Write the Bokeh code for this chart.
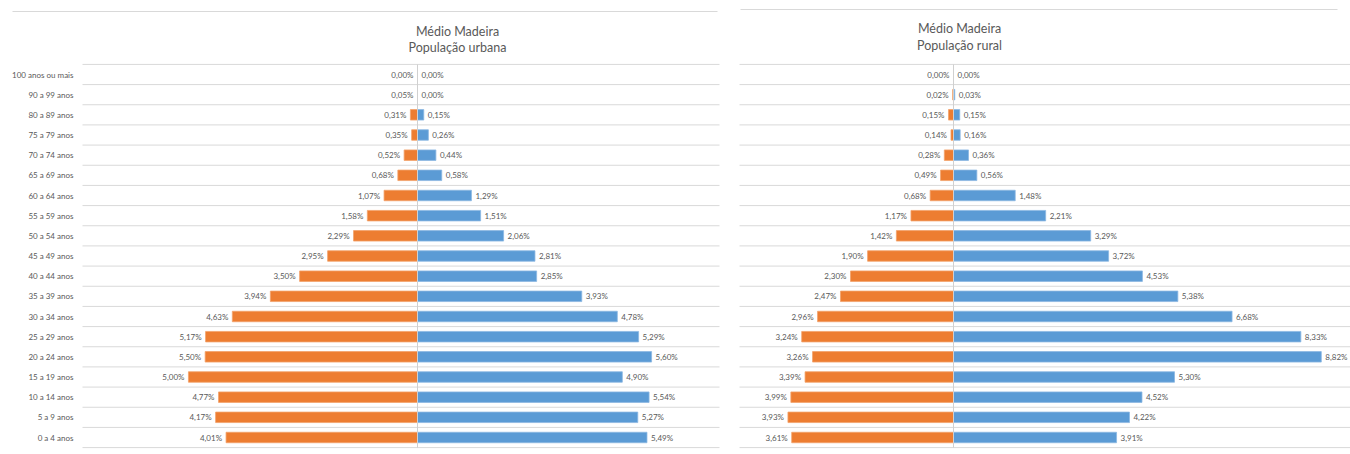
from bokeh.plotting import figure
from bokeh.layouts import row
from bokeh.models import Range1d, ColumnDataSource
from bokeh.embed import file_html
from bokeh.resources import INLINE
from bokeh.core.properties import value

# ---------------- data (bottom row first) ----------------
categories = ["0 a 4 anos", "5 a 9 anos", "10 a 14 anos", "15 a 19 anos",
              "20 a 24 anos", "25 a 29 anos", "30 a 34 anos", "35 a 39 anos",
              "40 a 44 anos", "45 a 49 anos", "50 a 54 anos", "55 a 59 anos",
              "60 a 64 anos", "65 a 69 anos", "70 a 74 anos", "75 a 79 anos",
              "80 a 89 anos", "90 a 99 anos", "100 anos ou mais"]

# Urban population
urban_female_labels = [4.01, 4.17, 4.77, 5.00, 5.50, 5.17, 4.63, 3.94, 3.50, 2.95,
                       2.29, 1.58, 1.07, 0.68, 0.52, 0.35, 0.31, 0.05, 0.00]
urban_female_bars = [4.58, 4.83, 4.76, 5.48, 5.08, 5.07, 4.43, 3.52, 2.82, 2.15,
                     1.53, 1.20, 0.80, 0.47, 0.32, 0.14, 0.17, 0.00, 0.00]
urban_male = [5.49, 5.27, 5.54, 4.90, 5.60, 5.29, 4.78, 3.93, 2.85, 2.81,
              2.06, 1.51, 1.29, 0.58, 0.44, 0.26, 0.15, 0.00, 0.00]

# Rural population
rural_female_labels = [3.61, 3.93, 3.99, 3.39, 3.26, 3.24, 2.96, 2.47, 2.30, 1.90,
                       1.42, 1.17, 0.68, 0.49, 0.28, 0.14, 0.15, 0.02, 0.00]
rural_female_bars = [3.88, 3.97, 3.90, 3.56, 3.38, 3.64, 3.26, 2.71, 2.47, 2.06,
                     1.37, 1.02, 0.56, 0.31, 0.22, 0.06, 0.12, 0.02, 0.00]
rural_male = [3.91, 4.22, 4.52, 5.30, 8.82, 8.33, 6.68, 5.38, 4.53, 3.72,
              3.29, 2.21, 1.48, 0.56, 0.36, 0.16, 0.15, 0.03, 0.00]

title_top = "Médio Madeira"
title_urban = "População urbana"
title_rural = "População rural"

# ---------------- style / layout ----------------
FONT = "Lato"
TXT = "#595959"
ORANGE = "#ED7D31"
BLUE = "#5B9BD5"
ORANGE_EDGE = "#F3A26B"
BLUE_EDGE = "#8CB8E2"
GRID = "#D9D9D9"
AXIS = "#D0D0D0"

PAGE_TOP = 0
H = 454
ROW_TOP_Y = 74
ROW_BOTTOM_Y = 437
N = len(categories)
ROW = (ROW_BOTTOM_Y - ROW_TOP_Y) / (N - 1)


def ky(page_y):
    return (ROW_BOTTOM_Y - page_y) / ROW


def fmt(v):
    return f"{v:.2f}".replace(".", ",") + "%"


def make_panel(left, width, center, pxpct, subtitle, title_cx, base1, base2,
               f_bars, f_labels, male, grid_x0, grid_x1, top_y, top_x0, top_x1,
               show_cats):
    def kx(page_x):
        return (page_x - center) / pxpct

    p = figure(width=width, height=H,
               x_range=Range1d(kx(left), kx(left + width)),
               y_range=Range1d(ky(PAGE_TOP + H), ky(PAGE_TOP)),
               x_axis_location=None, y_axis_location=None,
               output_backend="svg", toolbar_location=None, min_border=0)
    p.outline_line_color = None
    p.background_fill_color = "white"
    p.border_fill_color = "white"
    p.title.visible = False
    p.xgrid.visible = False
    p.ygrid.visible = False

    idx = list(range(N))

    # top frame line
    p.segment(x0=[kx(top_x0)], x1=[kx(top_x1)], y0=[ky(top_y)], y1=[ky(top_y)],
              line_color=GRID, line_width=1)

    # category gridlines (between categories)
    bounds = [i - 0.5 for i in range(N + 1)]
    p.segment(x0=[kx(grid_x0)] * len(bounds), x1=[kx(grid_x1)] * len(bounds),
              y0=bounds, y1=bounds, line_color=GRID, line_width=1)

    src = ColumnDataSource(dict(
        y=idx, fl=[-v for v in f_bars], m=male,
        flab=[fmt(v) for v in f_labels], mlab=[fmt(v) for v in male],
        cat=categories))

    p.hbar(y="y", left="fl", right=0, height=0.52, source=src,
           fill_color=ORANGE, line_color=ORANGE_EDGE, line_width=0.8)
    p.hbar(y="y", left=0, right="m", height=0.52, source=src,
           fill_color=BLUE, line_color=BLUE_EDGE, line_width=0.8)

    # vertical axis line
    p.segment(x0=[0], x1=[0], y0=[-0.5], y1=[N - 0.5], line_color=AXIS, line_width=1)

    # data labels
    p.text(x="fl", y="y", text="flab", source=src, x_offset=-4,
           text_align="right", text_baseline="middle",
           text_font=value(FONT), text_font_size="8px", text_color=TXT)
    p.text(x="m", y="y", text="mlab", source=src, x_offset=4,
           text_align="left", text_baseline="middle",
           text_font=value(FONT), text_font_size="8px", text_color=TXT)

    if show_cats:
        p.text(x=[kx(73)] * N, y=idx, text=categories,
               text_align="right", text_baseline="middle",
               text_font=value(FONT), text_font_size="8px", text_color=TXT)

    # titles
    p.text(x=[kx(title_cx)] * 2, y=[ky(base1), ky(base2)],
           text=[title_top, subtitle], text_align="center",
           text_baseline="alphabetic", text_font=value(FONT),
           text_font_size="12.5px", text_color=TXT)
    return p


p1 = make_panel(left=0, width=728, center=417, pxpct=41.8,
                subtitle=title_urban, title_cx=457, base1=30.5, base2=47,
                f_bars=urban_female_bars, f_labels=urban_female_labels,
                male=urban_male, grid_x0=82, grid_x1=719,
                top_y=11, top_x0=12, top_x1=717, show_cats=True)

p2 = make_panel(left=728, width=622, center=953, pxpct=41.7,
                subtitle=title_rural, title_cx=959, base1=27.5, base2=44.5,
                f_bars=rural_female_bars, f_labels=rural_female_labels,
                male=rural_male, grid_x0=739, grid_x1=1350,
                top_y=9, top_x0=740, top_x1=1337, show_cats=False)

layout = row(p1, p2)
open("out.html", "w").write(file_html(layout, INLINE))
